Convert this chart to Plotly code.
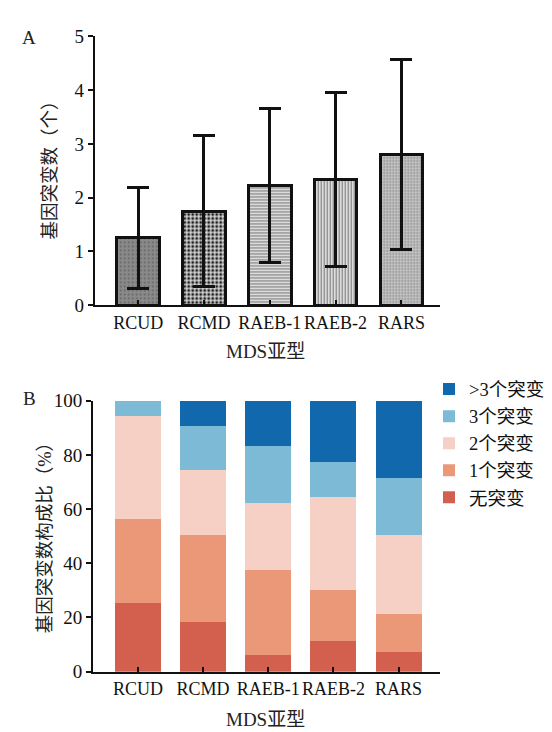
import plotly.graph_objects as go

W, H = 552, 732

# ---------------- data ----------------
subtypes = ["RCUD", "RCMD", "RAEB-1", "RAEB-2", "RARS"]
mean_counts = [1.25, 1.75, 2.22, 2.34, 2.80]
sd_counts = [0.94, 1.40, 1.43, 1.62, 1.77]

pct_none = [25.3, 18.4, 6.3, 11.2, 7.3]
pct_one = [31.1, 32.0, 31.1, 19.1, 13.9]
pct_two = [38.0, 23.9, 25.0, 34.0, 29.2]
pct_three = [5.6, 16.2, 21.0, 13.1, 21.0]
pct_gt3 = [0.0, 9.5, 16.6, 22.6, 28.6]

series_names = ["无突变", "1个突变", "2个突变", "3个突变", ">3个突变"]
series_colors = ["#d35f4e", "#eb9878", "#f6d0c4", "#7cbad6", "#1268ac"]

y_ticks_a = [0, 1, 2, 3, 4, 5]
y_ticks_b = [0, 20, 40, 60, 80, 100]

# fill styles for panel A bars
bar_bg = ["#8c8c8c", "#d8d8d8", "#f0f0f0", "#f0f0f0", "#cbcbcb"]
bar_fg = ["#6e6e6e", "#1e1e1e", "#7a7a7a", "#7a7a7a", "#8a8a8a"]
bar_shape = [".", ".", "-", "|", "."]
bar_size = [4, 4, 3, 3, 3]
bar_solid = [0.3, 0.45, 0.45, 0.45, 0.4]

FONT = "Liberation Serif, Noto Sans CJK SC"

def px_x(p):
    return p / W

def px_y(p):
    return 1 - p / H

fig = go.Figure()

# ---------------- panel A ----------------
for i, cat in enumerate(subtypes):
    fig.add_trace(go.Bar(
        x=[i], y=[mean_counts[i]],
        width=0.65,
        marker=dict(
            color=bar_bg[i],
            line=dict(color="#111111", width=3),
            pattern=dict(
                shape=bar_shape[i],
                fgcolor=bar_fg[i],
                bgcolor=bar_bg[i],
                size=bar_size[i],
                solidity=bar_solid[i],
                fillmode="replace",
                fgopacity=1,
            ),
        ),
        error_y=dict(type="data", array=[sd_counts[i]], visible=True,
                     color="#111111", thickness=3, width=11),
        showlegend=False,
        name=cat,
        xaxis="x", yaxis="y",
    ))

# ---------------- panel B ----------------
series_vals = [pct_none, pct_one, pct_two, pct_three, pct_gt3]
for name, vals, col in zip(series_names, series_vals, series_colors):
    fig.add_trace(go.Bar(
        x=list(range(len(subtypes))), y=vals, name=name,
        width=0.705,
        marker=dict(color=col, line=dict(width=0)),
        xaxis="x2", yaxis="y2",
    ))

axis_common = dict(
    showline=True, linecolor="#111111", linewidth=2,
    showgrid=False, zeroline=False,
    tickcolor="#111111", tickwidth=2, ticklen=5,
)

xtick_font = dict(family=FONT, size=18, color="#111111")
ytick_font = dict(family=FONT, size=19, color="#111111")

fig.update_layout(
    width=W, height=H,
    margin=dict(l=0, r=0, t=0, b=0),
    paper_bgcolor="white", plot_bgcolor="white",
    barmode="stack",
    font=dict(family=FONT, size=19, color="#111111"),
    xaxis=dict(
        domain=[px_x(86.7), px_x(431.6)],
        range=[-0.66, 4.58], anchor="y",
        tickmode="array", tickvals=list(range(len(subtypes))), ticktext=subtypes,
        ticks="inside", tickangle=0, tickfont=xtick_font, **axis_common,
    ),
    yaxis=dict(
        domain=[px_y(295.5), px_y(19)],
        range=[0, 5], anchor="x",
        tickmode="array", tickvals=y_ticks_a,
        ticks="outside", tickfont=ytick_font, **axis_common,
    ),
    xaxis2=dict(
        domain=[px_x(85), px_x(431.6)],
        range=[-0.69, 4.63], anchor="y2",
        tickmode="array", tickvals=list(range(len(subtypes))), ticktext=subtypes,
        ticks="inside", tickangle=0, tickfont=xtick_font, **axis_common,
    ),
    yaxis2=dict(
        domain=[px_y(673), px_y(394)],
        range=[0, 100], anchor="x2",
        tickmode="array", tickvals=y_ticks_b,
        ticks="outside", tickfont=ytick_font, **axis_common,
    ),
    legend=dict(
        x=px_x(421), y=px_y(363), xanchor="left", yanchor="top",
        traceorder="reversed",
        font=dict(family=FONT, size=18.5, color="#111111"),
        bgcolor="rgba(0,0,0,0)",
    ),
)

annots = [
    dict(text="A", x=px_x(21), y=px_y(20), size=19),
    dict(text="B", x=px_x(21.6), y=px_y(392), size=19),
    dict(text="MDS亚型", x=px_x(257.8), y=px_y(343), size=19),
    dict(text="MDS亚型", x=px_x(257.8), y=px_y(722), size=19),
    dict(text="基因突变数（个）", x=px_x(41.8), y=px_y(152), size=18.5, angle=-90),
    dict(text="基因突变数构成比（%）", x=px_x(36.6), y=px_y(531), size=18.5, angle=-90),
]
for a in annots:
    fig.add_annotation(
        text=a["text"], x=a["x"], y=a["y"], xref="paper", yref="paper",
        xanchor="center", yanchor="middle", showarrow=False,
        textangle=a.get("angle", 0),
        font=dict(family=FONT, size=a["size"], color="#222222"),
    )

fig.write_html("out.html")
